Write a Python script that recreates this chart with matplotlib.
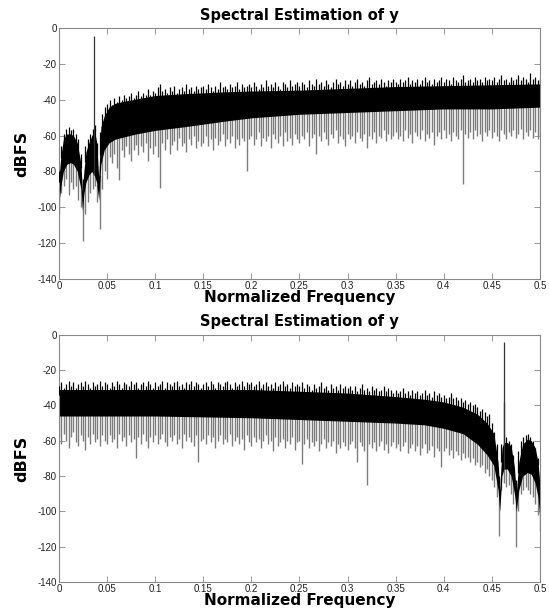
import numpy as np
import matplotlib
matplotlib.use('Agg')
import matplotlib.pyplot as plt

plt.rcParams['font.family'] = ['Liberation Sans', 'DejaVu Sans']
plt.rcParams['axes.unicode_minus'] = False

# frequency bins (step 0.0025) used by the peak / dip lists below
freq_bins = np.linspace(0, 0.5, 201)

# ---- top spectrum: dense band of the noise floor (upper edge / lower edge)
top_env_f = [0.000, 0.002, 0.0045, 0.008, 0.012, 0.015, 0.019, 0.0229, 0.0243, 0.026,
             0.028, 0.031, 0.034, 0.0367, 0.039, 0.0413, 0.0435, 0.047, 0.052, 0.058,
             0.065, 0.08, 0.1, 0.13, 0.17, 0.2, 0.25, 0.3, 0.35, 0.4, 0.45, 0.5]
top_env_hi = [-83, -71, -62, -59, -59, -60, -64, -76, -91, -79,
              -69, -64, -60, -57, -63, -83, -55, -49, -44, -42,
              -41, -39.5, -37.5, -36.5, -35.5, -35, -34.5, -33.5, -32.5, -32, -31.5, -31]
top_env_lo = [-98, -88, -80, -76, -75, -76, -80, -90, -102, -92,
              -86, -82, -80, -82, -86, -96, -76, -68, -64, -62,
              -61, -59, -57, -55, -52, -50, -48, -47, -46, -45, -45, -44]

# peak of each bin (black) and dip of each bin (gray)
top_peak_db = [
    -80, -66, -59, -56, -55, -57, -56, -59, -62, -70, -84, -66, -62, -59, -56, -54, -64, -58, -48, -44,
    -42, -40, -43, -39, -41, -38, -40, -37, -39, -38, -36, -39, -37, -35, -38, -36, -37, -34, -37, -35,
    -36, -33, -31, -35, -34, -36, -33, -35, -32, -36, -34, -33, -35, -31, -34, -33, -35, -32, -34, -33,
    -32, -34, -31, -33, -35, -32, -34, -30, -33, -32, -34, -31, -33, -32, -30, -34, -31, -33, -32, -31,
    -33, -30, -32, -34, -31, -33, -29, -32, -31, -33, -30, -32, -34, -30, -31, -33, -29, -32, -31, -30,
    -32, -30, -31, -33, -29, -31, -32, -28, -31, -30, -32, -29, -31, -33, -30, -28, -31, -30, -32, -29,
    -31, -29, -32, -30, -28, -31, -30, -32, -29, -27, -31, -30, -29, -31, -28, -30, -32, -29, -30, -28,
    -30, -31, -28, -30, -29, -27, -31, -29, -30, -28, -31, -29, -27, -30, -29, -31, -28, -30, -29, -27,
    -30, -28, -29, -31, -27, -29, -30, -28, -26, -30, -29, -28, -30, -27, -29, -28, -30, -27, -29, -28,
    -29, -27, -30, -28, -26, -29, -28, -30, -27, -29, -28, -26, -29, -27, -28, -30, -25, -28, -27, -29,
    -28]
top_dip_db = [
    -104, -92, -88, -84, -93, -86, -90, -88, -96, -100, -119, -104, -97, -92, -90, -88, -97, -112, -90, -80,
    -84, -72, -75, -70, -78, -85, -68, -72, -66, -70, -74, -68, -65, -71, -66, -69, -64, -74, -67, -70,
    -66, -72, -89, -64, -68, -62, -70, -65, -63, -68, -61, -66, -64, -69, -62, -65, -60, -67, -63, -66,
    -64, -60, -66, -62, -68, -61, -65, -63, -59, -66, -62, -64, -60, -67, -62, -65, -61, -63, -80, -62,
    -60, -65, -62, -58, -66, -61, -63, -60, -67, -59, -62, -64, -60, -66, -58, -63, -61, -65, -59, -62,
    -64, -60, -62, -58, -66, -61, -59, -70, -60, -63, -58, -62, -65, -59, -61, -57, -64, -60, -62, -66,
    -59, -62, -60, -64, -58, -61, -63, -59, -67, -60, -62, -58, -64, -60, -61, -57, -63, -59, -62, -60,
    -58, -62, -60, -63, -57, -61, -59, -64, -58, -60, -62, -57, -63, -59, -61, -58, -65, -60, -58, -62,
    -57, -61, -59, -63, -58, -60, -62, -57, -87, -59, -61, -58, -62, -57, -60, -59, -63, -58, -60, -57,
    -61, -58, -60, -63, -57, -59, -62, -58, -60, -57, -61, -59, -56, -62, -58, -60, -57, -61, -58, -62,
    -60]

top_tone_f, top_tone_db = 0.0367, -4

# ---- bottom spectrum
bot_env_f = [0.000, 0.05, 0.1, 0.15, 0.2, 0.25, 0.3, 0.35, 0.38, 0.40,
             0.42, 0.435, 0.445, 0.452, 0.4565, 0.4582, 0.4605, 0.4625, 0.466, 0.470,
             0.4735, 0.4754, 0.478, 0.482, 0.487, 0.491, 0.495, 0.498, 0.5]
bot_env_hi = [-31, -31, -31, -31, -31, -32, -33, -35, -36.5, -38,
              -41, -45, -50, -56, -72, -88, -64, -61, -61, -63,
              -75, -90, -72, -62, -59, -60, -64, -72, -85]
bot_env_lo = [-46, -46, -46, -46.5, -47, -48, -49, -50, -51, -53,
              -56, -62, -68, -74, -88, -100, -80, -76, -76, -80,
              -90, -100, -88, -80, -78, -79, -84, -92, -105]

bot_peak_db = [
    -29, -27, -30, -28, -26, -29, -27, -30, -28, -27, -29, -26, -28, -30, -27, -29, -28, -26, -29, -27,
    -28, -30, -27, -29, -26, -28, -30, -27, -28, -29, -26, -28, -27, -30, -28, -27, -29, -26, -28, -30,
    -27, -29, -28, -26, -30, -27, -28, -29, -27, -26, -29, -28, -30, -27, -28, -26, -29, -27, -28, -30,
    -28, -27, -29, -26, -28, -30, -27, -28, -29, -27, -26, -28, -30, -27, -29, -28, -26, -29, -27, -28,
    -27, -29, -28, -26, -30, -28, -27, -29, -28, -30, -27, -29, -28, -26, -29, -28, -30, -27, -29, -28,
    -29, -27, -30, -28, -29, -31, -28, -30, -29, -27, -30, -29, -31, -28, -30, -29, -31, -28, -30, -29,
    -30, -29, -31, -29, -32, -30, -28, -31, -30, -32, -29, -31, -30, -32, -31, -29, -32, -30, -31, -33,
    -31, -33, -32, -30, -33, -32, -34, -31, -33, -32, -34, -33, -31, -34, -33, -35, -32, -34, -33, -35,
    -34, -36, -35, -33, -36, -35, -37, -36, -38, -37, -39, -38, -40, -39, -41, -43, -42, -44, -46, -45,
    -50, -55, -62, -80, -62, -38, -58, -60, -62, -68, -82, -66, -60, -58, -57, -56, -58, -60, -64, -70,
    -84]
bot_dip_db = [
    -58, -62, -56, -60, -64, -58, -55, -61, -63, -57, -60, -65, -58, -62, -56, -61, -59, -63, -57, -60,
    -62, -57, -61, -59, -64, -56, -60, -58, -63, -57, -61, -59, -70, -58, -62, -56, -60, -64, -58, -61,
    -57, -62, -59, -56, -61, -63, -58, -60, -57, -62, -59, -64, -56, -60, -58, -61, -63, -57, -72, -60,
    -59, -62, -57, -61, -58, -64, -60, -57, -62, -59, -61, -56, -63, -60, -58, -62, -59, -65, -57, -61,
    -63, -58, -61, -59, -64, -60, -57, -62, -60, -66, -58, -63, -61, -59, -64, -60, -62, -58, -65, -61,
    -60, -73, -62, -59, -64, -61, -63, -60, -66, -62, -59, -64, -61, -63, -60, -67, -62, -64, -61, -63,
    -65, -62, -60, -64, -72, -61, -63, -66, -85, -62, -64, -61, -66, -63, -60, -65, -62, -67, -63, -61,
    -64, -62, -66, -63, -61, -67, -64, -62, -66, -63, -68, -64, -62, -67, -65, -63, -69, -64, -66, -75,
    -66, -64, -68, -65, -70, -66, -68, -71, -67, -70, -69, -72, -70, -74, -72, -75, -74, -78, -76, -80,
    -82, -86, -92, -114, -88, -84, -86, -85, -90, -96, -120, -100, -90, -88, -86, -88, -90, -92, -96, -102,
    -111]

bot_tone_f, bot_tone_db = 0.4625, -4

title = 'Spectral Estimation of y'
xlab = 'Normalized Frequency'
ylab = 'dBFS'
xticks = [0, 0.05, 0.1, 0.15, 0.2, 0.25, 0.3, 0.35, 0.4, 0.45, 0.5]
xticklabels = ['0', '0.05', '0.1', '0.15', '0.2', '0.25', '0.3', '0.35', '0.4', '0.45', '0.5']
yticks = [0, -20, -40, -60, -80, -100, -120, -140]

bold = dict(family='DejaVu Sans', fontweight='bold')


def desenha(ax, env_f, env_hi, env_lo, peak_db, dip_db, tone_f, tone_db):
    env_f = np.array(env_f)
    hi = np.interp(freq_bins, env_f, env_hi)
    lo = np.interp(freq_bins, env_f, env_lo)
    # gray dips hanging below the band
    ax.vlines(freq_bins, dip_db, lo + 3, color='#7c7c7c', lw=1.0, zorder=1)
    # dense black band
    ax.fill_between(env_f, env_lo, env_hi, color='black', lw=0, zorder=2)
    # black peaks on top of the band
    ax.vlines(freq_bins, hi - 3, peak_db, color='black', lw=0.9, zorder=3)
    ax.vlines([tone_f], [np.interp(tone_f, env_f, env_lo)], [tone_db],
              color='#333333', lw=0.9, zorder=3)

    ax.set_xlim(0, 0.5)
    ax.set_ylim(-140, 0)
    ax.set_xticks(xticks)
    ax.set_xticklabels(xticklabels)
    ax.set_yticks(yticks)
    ax.tick_params(direction='in', top=True, right=True, length=4, width=0.6,
                   labelsize=7, colors='#888888', labelcolor='#222222', pad=1.5)
    for s in ax.spines.values():
        s.set_color('#888888')
        s.set_linewidth(0.8)
    ax.set_title(title, fontsize=10.5, pad=6, **bold)
    ax.set_xlabel(xlab, fontsize=11, labelpad=-0.5, **bold)
    ax.set_ylabel(ylab, fontsize=11.5, labelpad=6, **bold)


fig = plt.figure(figsize=(5.49, 6.12), dpi=100)
ax1 = fig.add_axes([0.1075, 0.5445, 0.876, 0.409])
ax2 = fig.add_axes([0.1075, 0.049, 0.876, 0.404])

desenha(ax1, top_env_f, top_env_hi, top_env_lo, top_peak_db, top_dip_db,
        top_tone_f, top_tone_db)
desenha(ax2, bot_env_f, bot_env_hi, bot_env_lo, bot_peak_db, bot_dip_db,
        bot_tone_f, bot_tone_db)

fig.savefig('out.png', dpi=100)
